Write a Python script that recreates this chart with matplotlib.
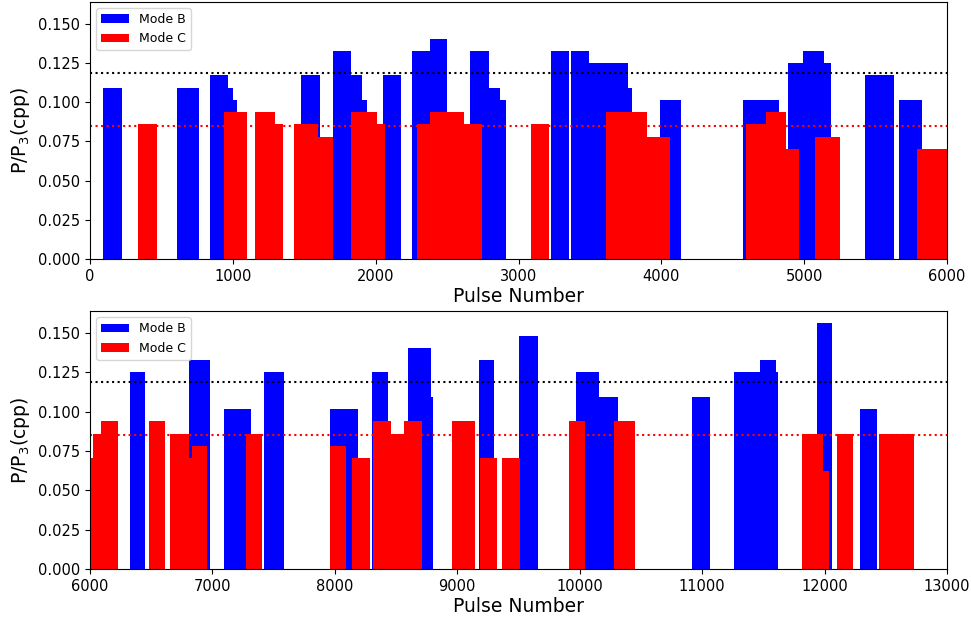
import matplotlib
matplotlib.use("Agg")
import matplotlib.pyplot as plt

# Mode B / Mode C segments: start pulse, end pulse, P/P3
top_b_start = [94, 607, 842, 969, 1000, 1478, 1699, 1824, 1901, 2052, 2252, 2377,
               2659, 2793, 2871, 3226, 3369, 3495, 3766, 3988, 4574, 4884, 4992,
               5137, 5426, 5664]
top_b_end = [224, 760, 969, 1000, 1028, 1612, 1824, 1901, 1937, 2176, 2377, 2501,
             2793, 2871, 2911, 3353, 3495, 3766, 3792, 4135, 4821, 4992, 5137,
             5190, 5627, 5828]
top_b_val = [0.1094, 0.1094, 0.1172, 0.1094, 0.1016, 0.1172, 0.1328, 0.1172, 0.1016,
             0.1172, 0.1328, 0.1406, 0.1328, 0.1094, 0.1016, 0.1328, 0.1328, 0.125,
             0.1094, 0.1016, 0.1016, 0.125, 0.1328, 0.125, 0.1172, 0.1016]

top_c_start = [336, 941, 1153, 1294, 1426, 1595, 1828, 2007, 2289, 2377, 2619, 3086,
               3614, 3901, 4590, 4733, 4873, 5076, 5790]
top_c_end = [471, 1099, 1294, 1353, 1595, 1699, 2007, 2064, 2377, 2619, 2741, 3212,
             3901, 4058, 4733, 4873, 4964, 5253, 6000]
top_c_val = [0.0859, 0.0938, 0.0938, 0.0859, 0.0859, 0.0781, 0.0938, 0.0859, 0.0859,
             0.0938, 0.0859, 0.0859, 0.0938, 0.0781, 0.0859, 0.0938, 0.0703, 0.0781,
             0.0703]

bot_b_start = [6325, 6807, 7092, 7421, 7958, 8301, 8594, 8785, 9174, 9500, 9970,
               10161, 10917, 11258, 11470, 11606, 11936, 12290]
bot_b_end = [6453, 6978, 7313, 7585, 8192, 8434, 8785, 8801, 9299, 9657, 10161,
             10310, 11064, 11470, 11606, 11620, 12064, 12426]
bot_b_val = [0.125, 0.1328, 0.1016, 0.125, 0.1016, 0.125, 0.1406, 0.1094, 0.1328,
             0.1484, 0.125, 0.1094, 0.1094, 0.125, 0.1328, 0.125, 0.1563, 0.1016]

bot_c_start = [6000, 6026, 6086, 6480, 6652, 6810, 6829, 7272, 7963, 8140, 8312, 8458,
               8564, 8959, 9188, 9367, 9916, 10283, 11816, 11985, 12102, 12445]
bot_c_end = [6026, 6086, 6225, 6616, 6810, 6829, 6957, 7405, 8088, 8290, 8458, 8564,
             8714, 9141, 9324, 9515, 10046, 10455, 11985, 12034, 12230, 12733]
bot_c_val = [0.0703, 0.0859, 0.0938, 0.0938, 0.0859, 0.0703, 0.0781, 0.0859, 0.0781,
             0.0703, 0.0938, 0.0859, 0.0938, 0.0938, 0.0703, 0.0703, 0.0938, 0.0938,
             0.0859, 0.0625, 0.0859, 0.0859]

line_b = 0.119
line_c = 0.085


def draw_panel(ax, b_start, b_end, b_val, c_start, c_end, c_val, xlim):
    b_w = [e - s for s, e in zip(b_start, b_end)]
    c_w = [e - s for s, e in zip(c_start, c_end)]
    ax.bar(b_start, b_val, width=b_w, align='edge', color='blue', linewidth=0, label='Mode B')
    ax.bar(c_start, c_val, width=c_w, align='edge', color='red', linewidth=0, label='Mode C')
    ax.axhline(line_b, color='black', linestyle=':', linewidth=1.5)
    ax.axhline(line_c, color='red', linestyle=':', linewidth=1.5)
    ax.set_xlim(xlim)
    ax.set_ylim(0, 0.164)
    ax.set_yticks([0, 0.025, 0.05, 0.075, 0.1, 0.125, 0.15])
    ax.yaxis.set_major_formatter(matplotlib.ticker.FormatStrFormatter('%.3f'))
    ax.tick_params(labelsize=10.5)
    ax.set_xlabel('Pulse Number', fontsize=13.5, labelpad=2)
    ax.set_ylabel('P/P$_3$(cpp)', fontsize=13.5)
    ax.legend(loc='upper left', fontsize=9, handlelength=2.2)


fig = plt.figure(figsize=(9.71, 6.22), dpi=100)
ax1 = fig.add_axes([0.0927, 0.5836, 0.8826, 0.4132])
ax2 = fig.add_axes([0.0927, 0.0852, 0.8826, 0.4148])

draw_panel(ax1, top_b_start, top_b_end, top_b_val, top_c_start, top_c_end, top_c_val, (0, 6000))
draw_panel(ax2, bot_b_start, bot_b_end, bot_b_val, bot_c_start, bot_c_end, bot_c_val, (6000, 13000))

fig.savefig('out.png', dpi=100)
